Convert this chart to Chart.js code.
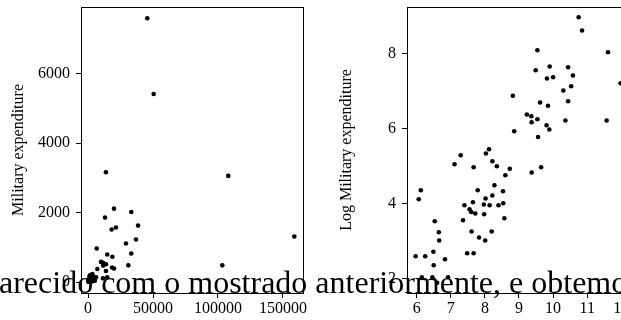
<!DOCTYPE html>
<html><head><meta charset="utf-8">
<script src="https://cdn.jsdelivr.net/npm/chart.js@4/dist/chart.umd.min.js"></script>
<style>
html,body{margin:0;padding:0;width:621px;height:320px;overflow:hidden;background:#fff;}
#wrap{position:relative;width:621px;height:320px;overflow:hidden;}
canvas{position:absolute;top:0;}
#c1{left:0;}
#c2{left:330px;}
#para{position:absolute;left:-1px;top:266px;font-family:"Liberation Serif",serif;font-size:32px;line-height:32px;white-space:nowrap;color:#000;z-index:5;}
</style></head>
<body><div id="wrap">
<canvas id="c1" width="330" height="320"></canvas>
<canvas id="c2" width="330" height="320"></canvas>
<div id="para">arecido com o mostrado anteriormente, e obtemos</div>
</div>
<script>
// Left panel: GDP vs military expenditure
const gdp = [45600,50500,107900,13800,13100,20000,18200,21500,33300,38500,36900,29200,158700,6700,14800,33300,18700,10000,11600,13900,11700,31000,103300,18500,20000,7200,13800,
 1470,3070,3360,1220,3720,4230,2140,6180,5430,11500,14800,455,428,3950,2420,5060,3040,3720,2100,1640,2890,3430,4450,5110,1900,2000,2250,2920,5270,1570,685,773,780,2020,3640,2515,3010,1770,2140,660,390,520,925,665,470,640,1010,735];
const milExp = [7606,5420,3060,3165,1857,2115,1512,1570,2020,1627,1225,1110,1311,967,795,823,727,580,555,513,473,480,480,420,390,373,316,
 196,206,230,154,167,147,143,137,116,106,135,77,61,88,77,75,62,67,56,52,53,52,52,55,47,43,42,41,37,35,34,25,20,26,26,22,20,14,14,15,13,13,12,10,8,8,8,7];
// Right panel: log GDP vs log military expenditure
const logGdp = [10.75,10.85,11.61,9.54,9.49,9.90,9.82,10.00,10.44,10.58,10.53,10.30,11.98,8.82,9.62,10.44,9.85,9.23,9.36,9.54,9.37,10.36,11.57,9.81,9.89,8.86,9.56,
 7.29,8.03,8.12,7.11,8.22,8.35,7.67,8.73,8.60,9.37,9.65,6.12,6.06,8.28,7.79,8.53,8.02,8.22,7.65,7.40,7.97,8.14,8.40,8.54,7.55,7.60,7.72,7.98,8.57,7.36,6.53,6.65,6.66,7.61,8.20,7.83,8.01,7.48,7.67,6.49,5.97,6.25,6.83,6.50,6.15,6.46,6.92,6.60];
const logMilExp = [8.96,8.61,8.03,8.08,7.55,7.65,7.33,7.36,7.63,7.41,7.12,7.01,7.20,6.87,6.69,6.72,6.60,6.37,6.32,6.24,6.16,6.21,6.21,6.08,5.97,5.92,5.77,
 5.28,5.33,5.44,5.04,5.12,4.99,4.96,4.92,4.75,4.82,4.96,4.35,4.11,4.48,4.35,4.32,4.13,4.21,4.03,3.95,3.97,3.95,3.95,4.00,3.84,3.77,3.73,3.71,3.60,3.55,3.52,3.23,3.01,3.25,3.25,3.09,3.01,2.67,2.67,2.71,2.59,2.59,2.51,2.35,2.03,2.03,2.03,1.88];
// Tick labels
const gdpTicks = [0, 50000, 100000, 150000];
const milTicks = [0, 2000, 4000, 6000];
const logGdpTicks = [6, 7, 8, 9, 10, 11, 12];
const logMilTicks = [2, 4, 6, 8];
const yTitleLeft = "Military expenditure";
const yTitleRight = "Log Military expenditure";

const FONT = '"Liberation Serif", "Times New Roman", serif';

const boxPlugin = {
  id: 'box',
  afterDraw(chart) {
    const a = chart.chartArea, ctx = chart.ctx;
    ctx.save();
    ctx.strokeStyle = '#000';
    ctx.lineWidth = 1;
    ctx.strokeRect(Math.round(a.left) + 0.5, Math.round(a.top) + 0.5, Math.round(a.right - a.left), Math.round(a.bottom - a.top));
    ctx.restore();
  }
};

function makeChart(id, xs, ys, xRange, yRange, xt, yt, title, yAxisW, titlePad, padRight) {
  const pts = xs.map((x, i) => ({x: x, y: ys[i]}));
  return new Chart(document.getElementById(id), {
    type: 'scatter',
    data: {datasets: [{data: pts, backgroundColor: '#000', borderWidth: 0, pointRadius: 2.3, pointHoverRadius: 2.3}]},
    options: {
      responsive: false, animation: false, devicePixelRatio: 1,
      layout: {padding: {top: 7, right: padRight, left: 0, bottom: 0}},
      plugins: {legend: {display: false}, tooltip: {enabled: false}},
      scales: {
        x: {
          type: 'linear', min: xRange[0], max: xRange[1],
          afterBuildTicks: s => { s.ticks = xt.map(v => ({value: v})); },
          afterFit: s => { s.height = 27; s.paddingLeft = 0; s.paddingRight = 0; },
          ticks: {callback: v => String(v), color: '#000', font: {family: FONT, size: 16}, padding: 1, maxRotation: 0, autoSkip: false},
          grid: {drawOnChartArea: false, drawTicks: true, tickLength: 5, color: '#000'},
          border: {display: true, color: '#000'}
        },
        y: {
          type: 'linear', min: yRange[0], max: yRange[1],
          afterBuildTicks: s => { s.ticks = yt.map(v => ({value: v})); },
          afterFit: s => { s.width = yAxisW; s.paddingTop = 0; s.paddingBottom = 0; },
          ticks: {callback: v => String(v), color: '#000', font: {family: FONT, size: 16}, padding: 6, autoSkip: false},
          grid: {drawOnChartArea: false, drawTicks: true, tickLength: 5, color: '#000'},
          border: {display: true, color: '#000'},
          title: {display: true, text: title, color: '#000', font: {family: FONT, size: 16}, padding: {top: titlePad, bottom: 0}}
        }
      }
    },
    plugins: [boxPlugin]
  });
}

makeChart('c1', gdp, milExp, [-5385, 165385], [-317, 7930], gdpTicks, milTicks, yTitleLeft, 81, 9, 27);
makeChart('c2', logGdp, logMilExp, [5.716, 12.226], [1.608, 9.235], logGdpTicks, logMilTicks, yTitleRight, 77, 7, 31);
</script>
</body></html>
